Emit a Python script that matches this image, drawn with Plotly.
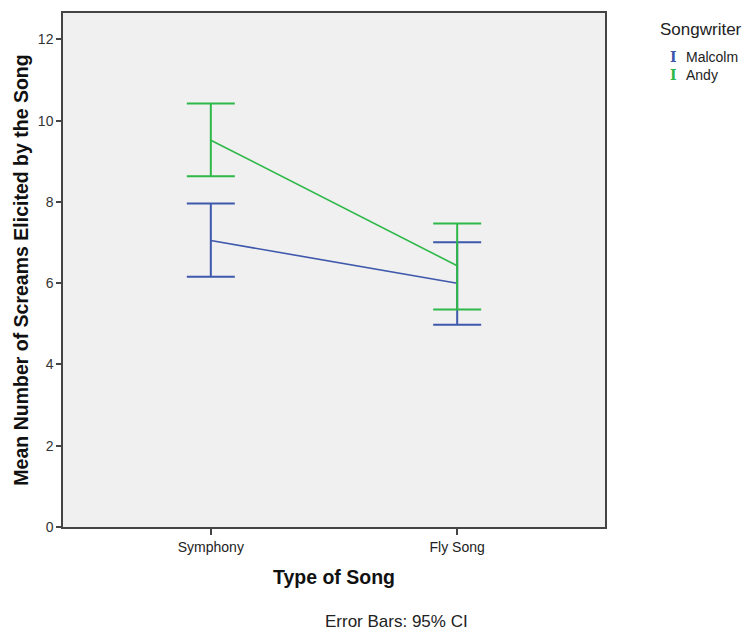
import plotly.graph_objects as go

categories = ["Symphony", "Fly Song"]
series_names = ["Malcolm", "Andy"]
malcolm_mean = [7.05, 6.00]
malcolm_lower = [6.16, 4.98]
malcolm_upper = [7.96, 7.01]
andy_mean = [9.52, 6.43]
andy_lower = [8.63, 5.35]
andy_upper = [10.42, 7.47]
y_ticks = [0, 2, 4, 6, 8, 10, 12]

colors = ["#3E58AC", "#2EB848"]
means = [malcolm_mean, andy_mean]
lowers = [malcolm_lower, andy_lower]
uppers = [malcolm_upper, andy_upper]

fig = go.Figure()
for name, m, lo, hi, c in zip(series_names, means, lowers, uppers, colors):
    fig.add_trace(go.Scatter(
        x=categories, y=m, mode="lines", name=name,
        line=dict(color=c, width=1.6),
        error_y=dict(type="data", symmetric=False,
                     array=[h - v for h, v in zip(hi, m)],
                     arrayminus=[v - l for v, l in zip(m, lo)],
                     color=c, thickness=2, width=24),
        showlegend=False,
    ))

font_family = "Liberation Sans, Arial, sans-serif"

fig.update_layout(
    width=746, height=634,
    margin=dict(l=63, r=141, t=11, b=107),
    paper_bgcolor="white",
    plot_bgcolor="#F0F0F0",
    font=dict(family=font_family, color="#222222", size=14),
    xaxis=dict(
        type="category", range=[-0.6, 1.6],
        showgrid=False, zeroline=False,
        showline=True, linecolor="#444444", linewidth=1.5, mirror=True,
        ticks="outside", ticklen=6, tickcolor="#444444", tickwidth=1.5,
        tickfont=dict(size=14, color="#222222"),
        title=dict(text="<b>Type of Song</b>", font=dict(size=19.5, color="#111111"), standoff=17),
    ),
    yaxis=dict(
        range=[0, 12.65],
        tickvals=y_ticks,
        showgrid=False, zeroline=False,
        showline=True, linecolor="#444444", linewidth=1.5, mirror=True,
        ticks="outside", ticklen=5, tickcolor="#444444", tickwidth=1.5,
        tickfont=dict(size=14, color="#333333"),
        title=dict(text="<b>Mean Number of Screams Elicited by the Song</b>",
                   font=dict(size=19.5, color="#111111"), standoff=4),
    ),
)

# Legend built as annotations
fig.add_annotation(xref="paper", yref="paper", x=1.098, y=0.967, xanchor="left", yanchor="middle",
                   text="Songwriter", showarrow=False, font=dict(size=17, color="#222222"))
for i, (name, c) in enumerate(zip(series_names, colors)):
    yy = 0.915 - i * 0.035
    fig.add_annotation(xref="paper", yref="paper", x=1.117, y=yy, xanchor="left", yanchor="middle",
                       text="<b>I</b>", showarrow=False,
                       font=dict(size=14, color=c, family="DejaVu Serif, serif"))
    fig.add_annotation(xref="paper", yref="paper", x=1.1455, y=yy, xanchor="left", yanchor="middle",
                       text=name, showarrow=False, font=dict(size=14, color="#222222"))

fig.add_annotation(xref="paper", yref="paper", x=0.6144, y=-0.184, xanchor="center", yanchor="middle",
                   text="Error Bars: 95% CI", showarrow=False, font=dict(size=17, color="#222222"))

fig.write_html("out.html", config={"displayModeBar": False},
               post_script="document.body.style.margin='0';")
